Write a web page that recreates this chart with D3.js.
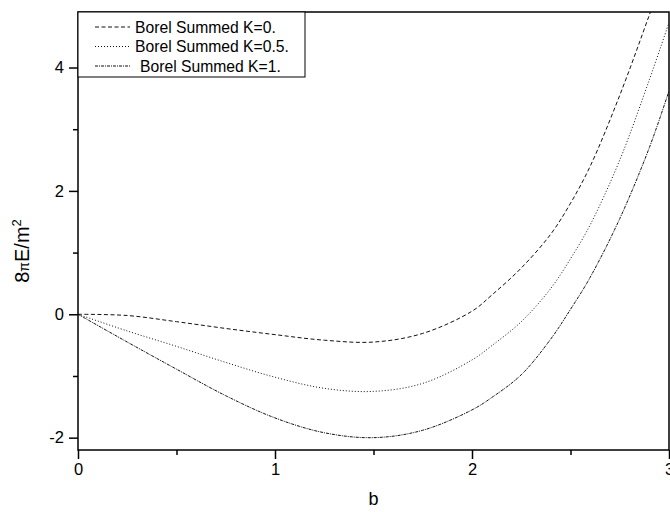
<!DOCTYPE html>
<html>
<head>
<meta charset="utf-8">
<script src="https://cdn.jsdelivr.net/npm/d3@7"></script>
<style>
  html, body { margin: 0; padding: 0; background: #fff; }
  svg { display: block; font-family: Arial, "Liberation Sans", sans-serif; }
</style>
</head>
<body>
<svg id="chart" width="670" height="512"></svg>
<script>
// ---- data ----
const bValues   = [0, 0.25, 0.5, 0.75, 1.0, 1.25, 1.5, 1.75, 2.0, 2.1, 2.25, 2.4, 2.5, 2.6, 2.75, 2.9, 3.0];
const energyK0  = [0, -0.02, -0.12, -0.23, -0.33, -0.42, -0.45, -0.31, 0.05, 0.31, 0.75, 1.30, 1.80, 2.40, 3.55, 4.85, 5.75];
const energyK05 = [0, -0.27, -0.52, -0.78, -1.02, -1.20, -1.25, -1.12, -0.74, -0.51, -0.12, 0.42, 0.90, 1.45, 2.50, 3.80, 4.73];
const energyK1  = [0, -0.45, -0.89, -1.32, -1.68, -1.92, -2.00, -1.88, -1.55, -1.35, -0.98, -0.40, 0.08, 0.60, 1.55, 2.70, 3.62];
const seriesNames = ["Borel Summed K=0.", "Borel Summed K=0.5.", "Borel Summed K=1."];
const xTickValues = [0, 1, 2, 3];
const xMinorTicks = [0.5, 1.5, 2.5];
const yTickValues = [-2, 0, 2, 4];
const yMinorTicks = [-1, 1, 3];

// ---- layout ----
const pLeft = 78, pRight = 669, pTop = 12, pBottom = 450;
const svg = d3.select("#chart");
const x = d3.scaleLinear().domain([0, 3]).range([pLeft, pRight]);
const y = d3.scaleLinear().domain([-2.2, 4.9]).range([pBottom, pTop]);

svg.append("defs").append("clipPath").attr("id", "plotclip")
  .append("rect").attr("x", pLeft).attr("y", pTop)
  .attr("width", pRight - pLeft).attr("height", pBottom - pTop);

const series = [
  { name: seriesNames[0], values: energyK0,  dash: "4,2.5" },
  { name: seriesNames[1], values: energyK05, dash: "1,2" },
  { name: seriesNames[2], values: energyK1,  dash: "3,1,1,1" }
];

const line = d3.line()
  .x(d => x(d[0])).y(d => y(d[1]))
  .curve(d3.curveCatmullRom.alpha(0.5));

const g = svg.append("g").attr("clip-path", "url(#plotclip)");
series.forEach(s => {
  g.append("path")
    .datum(bValues.map((b, i) => [b, s.values[i]]))
    .attr("d", line)
    .attr("fill", "none")
    .attr("stroke", "#111")
    .attr("stroke-width", 1)
    .attr("stroke-dasharray", s.dash);
});

// ---- axes ----
const xAxis = d3.axisBottom(x).tickValues(xTickValues).tickFormat(d3.format("d"))
  .tickSize(9).tickPadding(4);
const xMinor = d3.axisBottom(x).tickValues(xMinorTicks).tickFormat("").tickSize(5);
const yAxis = d3.axisLeft(y).tickValues(yTickValues).tickFormat(d => d < 0 ? "-" + Math.abs(d) : d)
  .tickSize(9).tickPadding(5);
const yMinor = d3.axisLeft(y).tickValues(yMinorTicks).tickFormat("").tickSize(5);

function styleAxis(sel) {
  sel.selectAll(".domain").remove();
  sel.selectAll("line").attr("stroke", "#000").attr("stroke-width", 1.5);
  sel.selectAll("text").attr("fill", "#000").style("font-size", "16.5px")
     .style("font-family", "Arial, 'Liberation Sans', sans-serif");
}

svg.append("g").attr("transform", `translate(0,${pBottom})`).call(xAxis).call(styleAxis);
svg.append("g").attr("transform", `translate(0,${pBottom})`).call(xMinor).call(styleAxis);
svg.append("g").attr("transform", `translate(${pLeft},0)`).call(yAxis).call(styleAxis);
svg.append("g").attr("transform", `translate(${pLeft},0)`).call(yMinor).call(styleAxis);

// frame
svg.append("rect").attr("x", pLeft).attr("y", pTop)
  .attr("width", pRight - pLeft).attr("height", pBottom - pTop)
  .attr("fill", "none").attr("stroke", "#000").attr("stroke-width", 1.5);

// axis titles
svg.append("text").attr("x", (pLeft + pRight) / 2).attr("y", 505)
  .attr("text-anchor", "middle").style("font-size", "18px").text("b");

const yl = svg.append("text")
  .attr("transform", "translate(29,251) rotate(-90)")
  .attr("text-anchor", "middle").style("font-size", "20px");
yl.append("tspan").text("8");
yl.append("tspan").style("font-size", "14px").text("π");
yl.append("tspan").text("E/m");
yl.append("tspan").attr("dy", "-8").style("font-size", "13px").text("2");

// ---- legend ----
const lg = svg.append("g");
lg.append("rect").attr("x", pLeft).attr("y", pTop)
  .attr("width", 227).attr("height", 65)
  .attr("fill", "#fff").attr("stroke", "#000").attr("stroke-width", 1);
const rowY = [27, 46.5, 66];
const textX = [135, 135, 140];
series.forEach((s, i) => {
  lg.append("line").attr("x1", 95).attr("x2", 130)
    .attr("y1", rowY[i]).attr("y2", rowY[i])
    .attr("stroke", "#111").attr("stroke-width", 1)
    .attr("stroke-dasharray", s.dash);
  lg.append("text").attr("x", textX[i]).attr("y", rowY[i] + 5.5)
    .style("font-size", "15.7px").attr("fill", "#000").text(s.name);
});
</script>
</body>
</html>
